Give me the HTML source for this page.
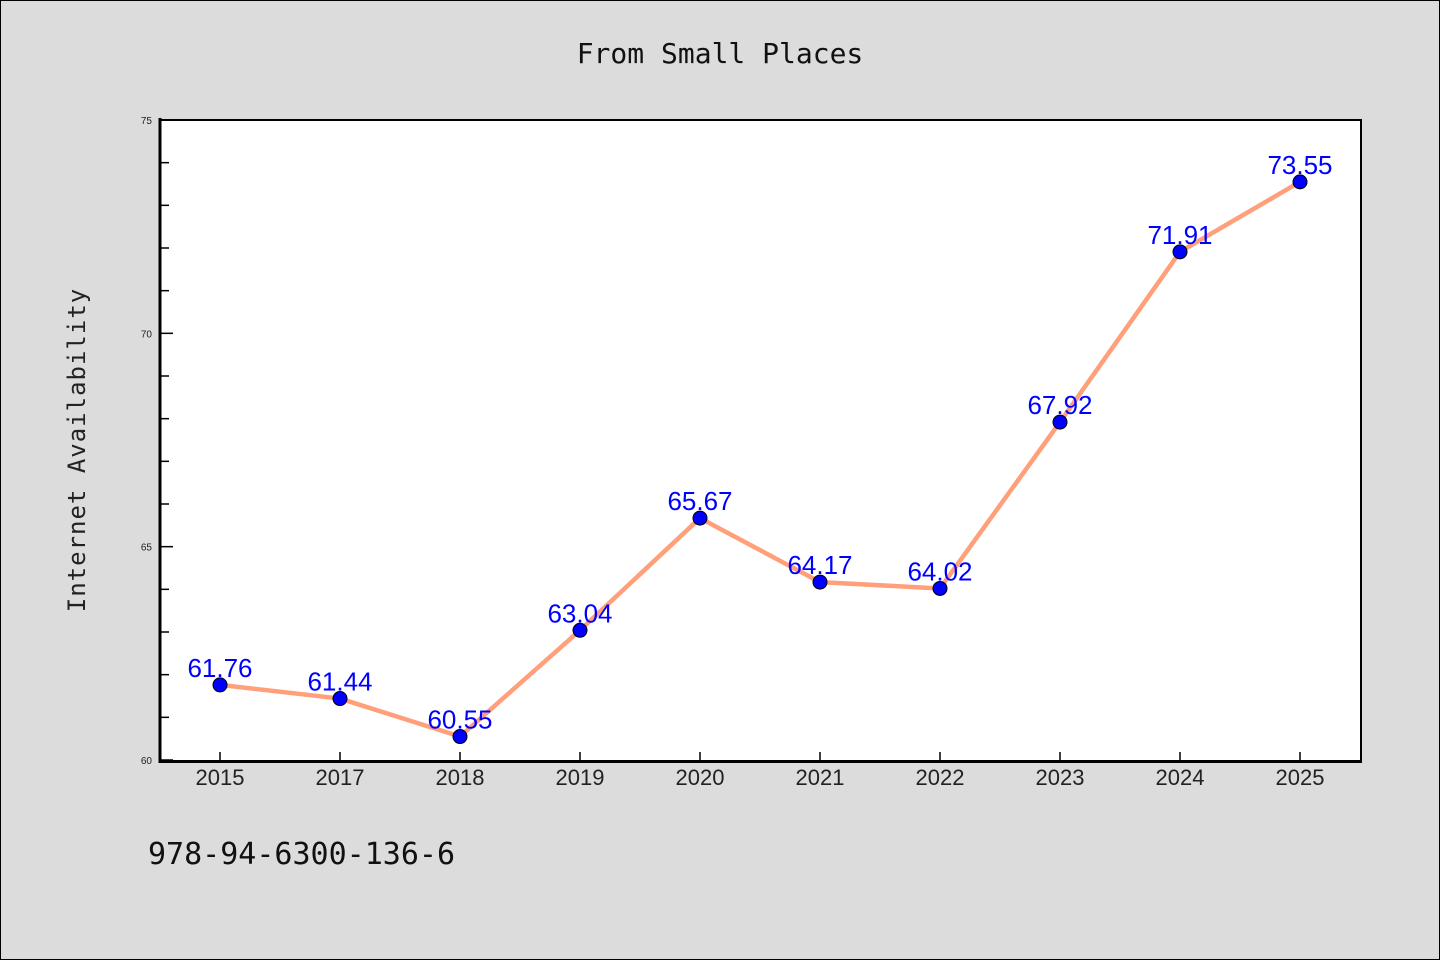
<!DOCTYPE html>
<html><head><meta charset="utf-8"><style>
body{margin:0;background:#dcdcdc;}
svg{display:block;font-family:"Liberation Sans","DejaVu Sans",sans-serif;}
</style></head><body>
<svg id="chart" width="1440" height="960">
<rect x="0.5" y="0.5" width="1439" height="959" fill="#dcdcdc" stroke="#000"/>
<text x="720" y="63" text-anchor="middle" font-size="28" font-family="DejaVu Sans Mono, monospace" fill="#111">From Small Places</text>
<rect x="160" y="120" width="1201" height="640" fill="#fff"/>
<g id="ticks"></g>
<g id="series"></g>
<path d="M160,120 H1361 V760" fill="none" stroke="#000" stroke-width="2"/>
<path d="M160,118 V761.5 H1362" fill="none" stroke="#000" stroke-width="3"/>
<text transform="translate(85,450) rotate(-90)" text-anchor="middle" font-size="24" font-family="DejaVu Sans Mono, monospace" fill="#222" letter-spacing="1">Internet Availability</text>
<text x="148" y="864" font-size="30" font-family="DejaVu Sans Mono, monospace" fill="#111">978-94-6300-136-6</text>
</svg>
<script>
const categories=["2015","2017","2018","2019","2020","2021","2022","2023","2024","2025"];
const values=[61.76,61.44,60.55,63.04,65.67,64.17,64.02,67.92,71.91,73.55];
const labels=["61.76","61.44","60.55","63.04","65.67","64.17","64.02","67.92","71.91","73.55"];
const yTicks=[60,65,70,75];
const yMin=60,yMax=75;
const NS="http://www.w3.org/2000/svg";
const x=i=>220+i*120;
const y=v=>760-(v-yMin)/(yMax-yMin)*640;
function mk(t,a,p){const e=document.createElementNS(NS,t);for(const k in a)e.setAttribute(k,a[k]);p.appendChild(e);return e;}
const tg=document.getElementById('ticks'),sg=document.getElementById('series');
for(let v=yMin;v<=yMax;v++){
  const major=yTicks.includes(v);
  const l=mk('line',{x1:160,x2:major?173:169,y1:y(v),y2:y(v),stroke:'#000','stroke-width':1.5},tg);
  
  
}
yTicks.forEach(v=>{
  const t=mk('text',{x:152,y:y(v)+4,'text-anchor':'end','font-size':10,fill:'#222'},tg);
  t.textContent=v;
  
  
});
categories.forEach((c,i)=>{
  const l=mk('line',{x1:x(i),x2:x(i),y1:760,y2:752,stroke:'#000','stroke-width':1.5},tg);
  
  
  const t=mk('text',{x:x(i),y:785,'text-anchor':'middle','font-size':22,fill:'#222'},tg);
  t.textContent=c;
  
  
});
const pl=mk('polyline',{points:values.map((v,i)=>x(i)+','+y(v)).join(' '),fill:'none',stroke:'#ffa07a','stroke-width':4.5,'stroke-linejoin':'round'},sg);


values.forEach((v,i)=>{
  const c=mk('circle',{cx:x(i),cy:y(v),r:7,fill:'#0000ff',stroke:'#000','stroke-width':1},sg);
  
  
});
values.forEach((v,i)=>{
  const t=mk('text',{x:x(i),y:y(v)-8,'text-anchor':'middle','font-size':26,fill:'#0000ff'},sg);
  t.textContent=labels[i];
  
  
});
</script>
</body></html>
